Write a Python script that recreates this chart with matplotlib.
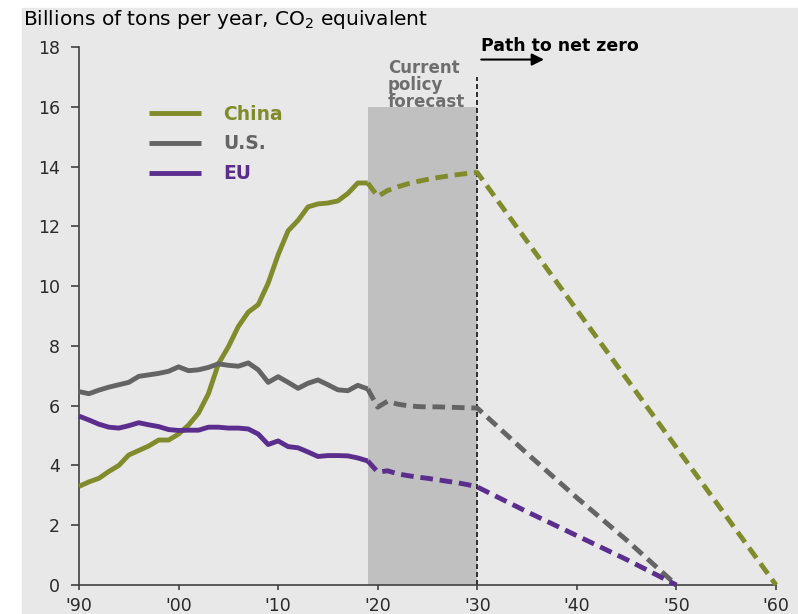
import numpy as np
import matplotlib
matplotlib.use("Agg")
import matplotlib.pyplot as plt
from matplotlib.patches import Rectangle

# historical emissions, billions of tons CO2e
years_hist = np.arange(1990, 2020)
china_hist = [3.30, 3.45, 3.57, 3.80, 4.00, 4.35, 4.50, 4.65, 4.85, 4.85,
              5.05, 5.35, 5.75, 6.40, 7.40, 7.97, 8.65, 9.13, 9.38, 10.10,
              11.05, 11.85, 12.20, 12.65, 12.75, 12.78, 12.85, 13.10, 13.45, 13.45]
us_hist = [6.47, 6.40, 6.52, 6.62, 6.70, 6.78, 6.98, 7.03, 7.08, 7.15,
           7.30, 7.17, 7.20, 7.28, 7.40, 7.35, 7.32, 7.43, 7.20, 6.78,
           6.97, 6.78, 6.58, 6.75, 6.86, 6.70, 6.53, 6.50, 6.68, 6.56]
eu_hist = [5.65, 5.52, 5.38, 5.28, 5.25, 5.33, 5.43, 5.36, 5.30, 5.20,
           5.17, 5.18, 5.18, 5.28, 5.28, 5.25, 5.25, 5.22, 5.05, 4.70,
           4.82, 4.63, 4.59, 4.45, 4.30, 4.33, 4.33, 4.32, 4.25, 4.15]

# current policy forecast 2019-2030
years_fc = np.arange(2019, 2031)
china_fc = [13.45, 13.00, 13.20, 13.32, 13.42, 13.50, 13.57, 13.63, 13.68, 13.73, 13.77, 13.80]
us_fc = [6.56, 5.95, 6.15, 6.05, 6.00, 5.97, 5.96, 5.96, 5.95, 5.94, 5.93, 5.92]
eu_fc = [4.15, 3.78, 3.82, 3.72, 3.66, 3.61, 3.57, 3.52, 3.47, 3.42, 3.36, 3.28]

# path to net zero after 2030
china_nz_years = [2030, 2060]
china_nz = [13.80, 0.0]
west_nz_years = [2030, 2035, 2040, 2045, 2050]
us_nz = [5.92, 4.40, 2.92, 1.50, 0.0]
eu_nz = [3.28, 2.45, 1.65, 0.85, 0.0]

xticks = [1990, 2000, 2010, 2020, 2030, 2040, 2050, 2060]
xticklabels = ["'90", "'00", "'10", "'20", "'30", "'40", "'50", "'60"]
yticks = [0, 2, 4, 6, 8, 10, 12, 14, 16, 18]

C_CHINA = '#808b2c'
C_US = '#646464'
C_EU = '#5b2d8c'
LW = 3.5
DASH = (2.6, 1.4)

fig = plt.figure(figsize=(7.98, 6.14), dpi=100)
bg = Rectangle((22 / 798, 0), 1, (614 - 8) / 614, transform=fig.transFigure,
               color='#e8e8e8', zorder=-5)
fig.patches.append(bg)

ax = fig.add_axes([79 / 798, 29 / 614, 697 / 798, 538 / 614])
ax.set_facecolor('none')
ax.set_zorder(2)

# forecast window
ax.fill_between([2019, 2030], 0, 16, color='#c0c0c0', lw=0, zorder=1)
ax.plot([2030, 2030], [0, 17], color='#111111', lw=1.2, dashes=(3, 1.8),
        zorder=2, clip_on=False)

series = [
    ('China', C_CHINA, china_hist, china_fc, china_nz_years, china_nz),
    ('U.S.', C_US, us_hist, us_fc, west_nz_years, us_nz),
    ('EU', C_EU, eu_hist, eu_fc, west_nz_years, eu_nz),
]
handles = []
for name, col, hist, fc, nz_x, nz_y in series:
    h, = ax.plot(years_hist, hist, color=col, lw=LW, solid_capstyle='butt',
                 solid_joinstyle='round', label=name, zorder=4, clip_on=False)
    handles.append(h)
    dx = list(years_fc) + list(nz_x[1:])
    dy = list(fc) + list(nz_y[1:])
    ax.plot(dx, dy, color=col, lw=LW, dashes=DASH, dash_capstyle='butt',
            zorder=3, clip_on=False)

ax.set_xlim(1990, 2060)
ax.set_ylim(0, 18)
ax.set_xticks(xticks)
ax.set_xticklabels(xticklabels)
ax.set_yticks(yticks)

for s in ['top', 'right']:
    ax.spines[s].set_visible(False)
for s in ['left', 'bottom']:
    ax.spines[s].set_color('#404040')
    ax.spines[s].set_linewidth(1.2)

ax.tick_params(axis='y', length=5.8, width=1.2, pad=8, colors='#404040',
               labelcolor='#2a2a2a', labelsize=12.5)
ax.tick_params(axis='x', length=3.5, width=1.2, pad=5, colors='#404040',
               labelcolor='#2a2a2a', labelsize=12.5)

leg = ax.legend(handles=handles, loc='upper left', bbox_to_anchor=(0.1, 0.893),
                frameon=False, handlelength=2.8, handletextpad=1.15,
                labelspacing=0.58, borderpad=0, borderaxespad=0,
                prop={'weight': 'bold', 'size': 13.5}, labelcolor='linecolor')

ax.text(2021.0, 17.6, 'Current\npolicy\nforecast', color='#6e6e6e',
        fontweight='bold', fontsize=12, va='top', ha='left', linespacing=0.92)
ax.text(2030.4, 18.05, 'Path to net zero', color='black', fontweight='bold',
        fontsize=12.5, va='center', ha='left', clip_on=False)
ax.annotate('', xy=(2036.7, 17.58), xytext=(2030.4, 17.58),
            arrowprops=dict(arrowstyle='-|>', color='black', lw=1.5,
                            mutation_scale=18, shrinkA=0, shrinkB=0),
            annotation_clip=False)

fig.text(22.7 / 798, 1 - 25 / 614, 'Billions of tons per year, CO$_2$ equivalent',
         fontsize=14.5, va='baseline', ha='left', color='black')

fig.savefig('out.png', dpi=100)
